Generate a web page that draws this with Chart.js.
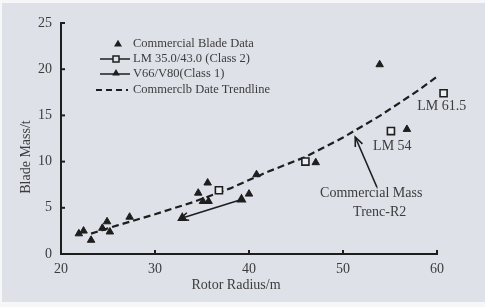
<!DOCTYPE html>
<html><head><meta charset="utf-8">
<script src="https://cdn.jsdelivr.net/npm/chart.js@4"></script>
<style>html,body{margin:0;padding:0;background:#fff;overflow:hidden}</style>
</head><body>
<canvas id="c" width="485" height="307"></canvas>
<script>
// ---- data ----
const commercialRadius = [21.9, 22.4, 23.2, 24.4, 24.9, 25.2, 27.3, 34.6, 35.6, 35.1, 35.7, 40.0, 40.8, 47.1, 53.9, 56.8];
const commercialMass   = [2.2, 2.5, 1.5, 2.8, 3.5, 2.4, 4.0, 6.6, 7.7, 5.7, 5.7, 6.5, 8.6, 9.9, 20.5, 13.5];
const lmRadius = [36.8, 46.0, 55.1, 60.7];
const lmMass   = [6.9, 10.0, 13.3, 17.4];
const vRadius = [32.9, 39.2];
const vMass   = [3.9, 5.9];
const trendRadius = [23.2, 26, 30, 34, 38, 42, 46, 50, 54, 58, 60];
const trendMass   = [2.2, 3.1, 4.3, 5.6, 7.1, 8.9, 10.5, 12.6, 15.0, 17.7, 19.2];
const xTicks = [20, 30, 40, 50, 60];
const yTicks = [0, 5, 10, 15, 20, 25];
const legendLabels = ['Commercial Blade Data', 'LM 35.0/43.0 (Class 2)', 'V66/V80(Class 1)', 'Commerclb Date Trendline'];
const annotations = [
  {text: 'LM 61.5', x: 57.9, y: 16.0, align: 'left'},
  {text: 'LM 54', x: 53.2, y: 11.6, align: 'left'},
  {text: 'Commercial Mass', x: 53.0, y: 6.6, align: 'center'},
  {text: 'Trenc-R2', x: 53.9, y: 4.55, align: 'center'}
];
const massArrow = {from: [53.6, 7.25], to: [51.3, 12.66]};
const xTitle = 'Rotor Radius/m';
const yTitle = 'Blade Mass/t';

const INK = '#1e1e1e', TXT = '#3c3c3c', BG = '#dfe1e8';
const SERIF = '"Liberation Serif", "DejaVu Serif", serif';
const pts = (xs, ys) => xs.map((x, i) => ({x, y: ys[i]}));

function arrowHead(ctx, x1, y1, x2, y2, len, ang) {
  const a = Math.atan2(y2 - y1, x2 - x1);
  ctx.beginPath();
  ctx.moveTo(x2 - len * Math.cos(a - ang), y2 - len * Math.sin(a - ang));
  ctx.lineTo(x2, y2);
  ctx.lineTo(x2 - len * Math.cos(a + ang), y2 - len * Math.sin(a + ang));
  ctx.stroke();
}
function tri(ctx, x, y, r) {
  ctx.beginPath();
  ctx.moveTo(x, y - r);
  ctx.lineTo(x + r * 0.95, y + r * 0.6);
  ctx.lineTo(x - r * 0.95, y + r * 0.6);
  ctx.closePath();
  ctx.fill();
}

const deco = {
  id: 'deco',
  beforeDraw(chart) {
    const ctx = chart.ctx;
    ctx.save();
    ctx.fillStyle = '#f7f7f9';
    ctx.fillRect(0, 0, chart.width, chart.height);
    ctx.fillStyle = BG;
    ctx.fillRect(2, 3, chart.width - 2, chart.height - 8);
    ctx.restore();
  },
  afterDraw(chart) {
    const ctx = chart.ctx, xs = chart.scales.x, ys = chart.scales.y;
    const a = chart.chartArea;
    ctx.save();
    ctx.setLineDash([]);
    ctx.strokeStyle = INK; ctx.fillStyle = INK;
    // axis lines
    ctx.lineWidth = 2;
    ctx.beginPath();
    ctx.moveTo(a.left, a.top - 1); ctx.lineTo(a.left, a.bottom); ctx.lineTo(a.right + 1, a.bottom);
    ctx.stroke();
    // inward tick marks
    yTicks.forEach(v => { const py = ys.getPixelForValue(v); ctx.beginPath(); ctx.moveTo(a.left, py); ctx.lineTo(a.left + 4, py); ctx.stroke(); });
    xTicks.forEach(v => { const px = xs.getPixelForValue(v); ctx.beginPath(); ctx.moveTo(px, a.bottom); ctx.lineTo(px, a.bottom - 4); ctx.stroke(); });
    // arrow at start of class 1 line
    ctx.lineWidth = 1.6;
    arrowHead(ctx, xs.getPixelForValue(vRadius[1]), ys.getPixelForValue(vMass[1]),
              xs.getPixelForValue(vRadius[0]) - 2, ys.getPixelForValue(vMass[0]) + 1, 9, 0.45);
    // commercial mass arrow
    const fx = xs.getPixelForValue(massArrow.from[0]), fy = ys.getPixelForValue(massArrow.from[1]);
    const tx = xs.getPixelForValue(massArrow.to[0]), ty = ys.getPixelForValue(massArrow.to[1]);
    ctx.beginPath(); ctx.moveTo(fx, fy); ctx.lineTo(tx, ty); ctx.stroke();
    arrowHead(ctx, fx, fy, tx, ty, 10, 0.4);
    // annotations
    ctx.fillStyle = TXT;
    ctx.font = '14px ' + SERIF;
    ctx.textBaseline = 'middle';
    annotations.forEach(n => { ctx.textAlign = n.align; ctx.fillText(n.text, xs.getPixelForValue(n.x), ys.getPixelForValue(n.y)); });
    // legend
    const rows = [44, 59, 74, 90];
    ctx.font = '12.5px ' + SERIF;
    ctx.textAlign = 'left';
    legendLabels.forEach((t, i) => ctx.fillText(t, 133, rows[i]));
    ctx.fillStyle = INK; ctx.strokeStyle = INK;
    tri(ctx, 118, rows[0], 4.2);
    ctx.lineWidth = 1.5;
    ctx.beginPath(); ctx.moveTo(100, rows[1]); ctx.lineTo(130, rows[1]); ctx.stroke();
    ctx.fillStyle = BG; ctx.fillRect(113, rows[1] - 3, 6, 6); ctx.strokeRect(113, rows[1] - 3, 6, 6);
    ctx.fillStyle = INK;
    ctx.beginPath(); ctx.moveTo(100, rows[2]); ctx.lineTo(130, rows[2]); ctx.stroke();
    tri(ctx, 116, rows[2] - 1, 4);
    ctx.lineWidth = 2; ctx.setLineDash([6, 4]);
    ctx.beginPath(); ctx.moveTo(96, rows[3]); ctx.lineTo(128, rows[3]); ctx.stroke();
    ctx.setLineDash([]);
    // axis titles
    ctx.fillStyle = TXT;
    ctx.font = '14px ' + SERIF;
    ctx.textAlign = 'center';
    ctx.fillText(xTitle, 236, 285);
    ctx.translate(26, 157); ctx.rotate(-Math.PI / 2);
    ctx.fillText(yTitle, 0, 0);
    ctx.restore();
  }
};

new Chart(document.getElementById('c'), {
  type: 'scatter',
  data: {
    datasets: [
      {label: legendLabels[3], data: pts(trendRadius, trendMass), showLine: true, borderColor: INK, borderWidth: 2.2, borderDash: [7, 4], pointRadius: 0, fill: false, order: 3},
      {label: legendLabels[2], data: pts(vRadius, vMass), showLine: true, borderColor: INK, borderWidth: 1.6, pointStyle: 'triangle', pointRadius: 4.3, pointBackgroundColor: INK, pointBorderColor: INK, order: 2},
      {label: legendLabels[0], data: pts(commercialRadius, commercialMass), pointStyle: 'triangle', pointRadius: 4.3, backgroundColor: INK, borderColor: INK, borderWidth: 1, order: 1},
      {label: legendLabels[1], data: pts(lmRadius, lmMass), pointStyle: 'rect', pointRadius: 5, backgroundColor: '#eceef2', borderColor: INK, borderWidth: 1.6, order: 0}
    ].map(d => Object.assign(d, {clip: false}))
  },
  options: {
    responsive: false,
    animation: false,
    devicePixelRatio: 1,
    layout: {padding: {left: 0, right: 48, top: 23, bottom: 0}},
    plugins: {legend: {display: false}, tooltip: {enabled: false}},
    scales: {
      x: {
        type: 'linear', min: 20, max: 60,
        afterBuildTicks: s => { s.ticks = xTicks.map(v => ({value: v})); },
        afterFit: s => { s.height = 53; },
        ticks: {color: TXT, font: {family: SERIF, size: 14}, padding: 7},
        grid: {display: false, drawTicks: false},
        border: {display: false}
      },
      y: {
        type: 'linear', min: 0, max: 25,
        afterBuildTicks: s => { s.ticks = yTicks.map(v => ({value: v})); },
        afterFit: s => { s.width = 61; },
        ticks: {color: TXT, font: {family: SERIF, size: 14}, padding: 9},
        grid: {display: false, drawTicks: false},
        border: {display: false}
      }
    }
  },
  plugins: [deco]
});
</script>
</body></html>
